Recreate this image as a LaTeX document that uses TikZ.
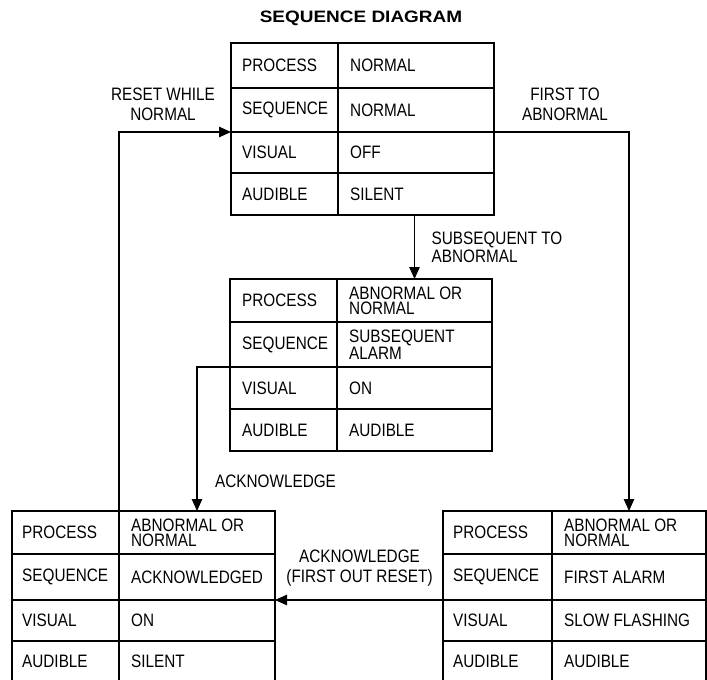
\documentclass[tikz,border=0pt]{standalone}
\usepackage{fontspec}
\setmainfont{Liberation Sans}[FakeStretch=0.85]
\newfontfamily\titlefont{Liberation Sans}[FakeStretch=1.15]
\usetikzlibrary{arrows.meta}
\newcommand\cellfont{\fontsize{18}{15.2}\selectfont}
\newcommand\lblfont{\fontsize{18}{20}\selectfont}
\newcommand\mkcell[7]{%
  \node[cellbox, minimum width={#3-#2}, minimum height={#5-#4}] (#1) at (#2,#4) {};
  \node[celltext] (#1t) at ([xshift=#6pt]#1.west) {#7};}
\tikzset{
  cellbox/.style={draw, line width=1.1pt, inner sep=0pt, outer sep=0pt, anchor=north west},
  celltext/.style={inner sep=0pt, anchor=west, align=left, font=\cellfont},
  lbl/.style={inner sep=0pt, font=\lblfont},
  conn/.style={line width=1.1pt, -{Triangle[length=12pt,width=10.5pt]}},
}
\begin{document}
\begin{tikzpicture}[x=1pt,y=-1pt]
\useasboundingbox (0,0) rectangle (707,680);
\node[inner sep=0pt, font=\titlefont\bfseries\fontsize{16.5}{18}\selectfont] (title) at (361,18.5) {SEQUENCE DIAGRAM};
% top table
\mkcell{t1a}{231}{338}{43}{88}{11}{PROCESS}
\mkcell{t1b}{338}{494}{43}{88}{12}{NORMAL}
\mkcell{t2a}{231}{338}{88}{132}{11}{SEQUENCE}
\mkcell{t2b}{338}{494}{88}{132}{12}{NORMAL}
\mkcell{t3a}{231}{338}{132}{173}{11}{VISUAL}
\mkcell{t3b}{338}{494}{132}{173}{12}{OFF}
\mkcell{t4a}{231}{338}{173}{215}{11}{AUDIBLE}
\mkcell{t4b}{338}{494}{173}{215}{12}{SILENT}
% middle table
\mkcell{m1a}{230}{337}{279}{322}{12}{PROCESS}
\mkcell{m1b}{337}{492}{279}{322}{12}{ABNORMAL OR\\NORMAL}
\mkcell{m2a}{230}{337}{322}{367}{12}{SEQUENCE}
\mkcell{m2b}{337}{492}{322}{367}{12}{SUBSEQUENT\\ALARM}
\mkcell{m3a}{230}{337}{367}{409}{12}{VISUAL}
\mkcell{m3b}{337}{492}{367}{409}{12}{ON}
\mkcell{m4a}{230}{337}{409}{451}{12}{AUDIBLE}
\mkcell{m4b}{337}{492}{409}{451}{12}{AUDIBLE}
% bottom left table
\mkcell{l1a}{12}{119}{511}{554}{10}{PROCESS}
\mkcell{l1b}{119}{275}{511}{554}{12}{ABNORMAL OR\\NORMAL}
\mkcell{l2a}{12}{119}{554}{600}{10}{SEQUENCE}
\mkcell{l2b}{119}{275}{554}{600}{12}{ACKNOWLEDGED}
\mkcell{l3a}{12}{119}{600}{641}{10}{VISUAL}
\mkcell{l3b}{119}{275}{600}{641}{12}{ON}
\mkcell{l4a}{12}{119}{641}{682}{10}{AUDIBLE}
\mkcell{l4b}{119}{275}{641}{682}{12}{SILENT}
% bottom right table
\mkcell{r1a}{443}{552}{511}{554}{10}{PROCESS}
\mkcell{r1b}{552}{706}{511}{554}{12}{ABNORMAL OR\\NORMAL}
\mkcell{r2a}{443}{552}{554}{600}{10}{SEQUENCE}
\mkcell{r2b}{552}{706}{554}{600}{12}{FIRST ALARM}
\mkcell{r3a}{443}{552}{600}{641}{10}{VISUAL}
\mkcell{r3b}{552}{706}{600}{641}{12}{SLOW FLASHING}
\mkcell{r4a}{443}{552}{641}{682}{10}{AUDIBLE}
\mkcell{r4b}{552}{706}{641}{682}{12}{AUDIBLE}
% labels
\node[lbl, align=center] (lreset) at (163,104.5) {RESET WHILE\\NORMAL};
\node[lbl, align=center] (lfirst) at (565,104.5) {FIRST TO\\ABNORMAL};
\node[lbl, align=left, anchor=west, font=\fontsize{18}{17.7}\selectfont] (lsub) at (431.5,247.2) {SUBSEQUENT TO\\ABNORMAL};
\node[lbl, anchor=west] (lack) at (215,481) {ACKNOWLEDGE};
\node[lbl, align=center] (lackf) at (359.5,568.3) {ACKNOWLEDGE\\(FIRST OUT RESET)};
% connectors
\draw[conn] (l1a.north east) |- (t3a.north west);
\draw[conn] (t3b.north east) -| (r1b.north);
\draw[conn] (t4b.south -| m1b.north) -- (m1b.north);
\draw[conn] (m3a.north west) -| (l1b.north);
\draw[conn] (r3a.north west) -- (l3b.north east);
\end{tikzpicture}
\end{document}
